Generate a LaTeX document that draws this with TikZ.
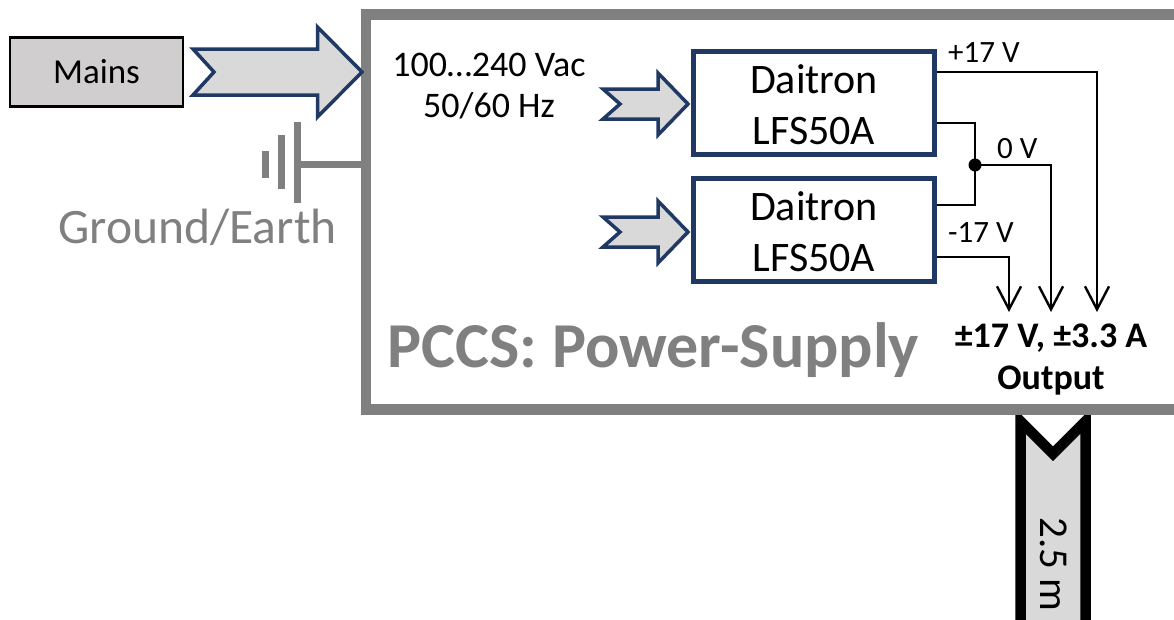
\documentclass[tikz,border=0pt]{standalone}
\usepackage{fontspec}
\setmainfont{Carlito}
\usetikzlibrary{arrows.meta,calc}
\definecolor{navy}{HTML}{1F3864}
\definecolor{grayline}{HTML}{808080}
\definecolor{arrowfill}{HTML}{D9D9D9}
\definecolor{mainsfill}{HTML}{D0CECE}
\tikzset{
  x=1pt,y=-1pt,
  blockarrow/.style={draw=navy,fill=arrowfill,miter limit=10,line width=3.5pt},
  psu/.style={draw=navy,line width=5pt,fill=white,minimum width=241pt,minimum height=103pt,inner sep=0pt},
  psutext/.style={inner sep=0pt,align=center,font=\fontsize{42}{51}\selectfont},
  wire/.style={draw=black,line width=2.4pt},
  wirearrow/.style={wire,-{Straight Barb[length=24pt,width=27pt,line width=2.4pt,angle=55:26pt]}},
  small/.style={font=\fontsize{31}{36}\selectfont,inner sep=0pt},
  gnd/.style={draw=grayline,line width=7pt},
}
\begin{document}
\begin{tikzpicture}
\useasboundingbox (0,0) rectangle (1174,619);
\clip (0,0) rectangle (1174,619);
% cable
\draw[draw=black,fill=arrowfill,line width=10.5pt,miter limit=10] (1020.5,640) -- (1020.5,421.2) -- (1053,453.7) -- (1085.5,421.2) -- (1085.5,640);
\node[rotate=-90,font=\fontsize{41}{46}\selectfont,inner sep=0pt] (len) at (1053.5,564.5) {2.5 m};
% outer box
\node[draw=grayline,line width=10.5pt,fill=white,minimum width=813pt,minimum height=395pt,inner sep=0pt] (pccs) at (772.5,212) {};
% mains
\node[draw=black,line width=2.4pt,fill=mainsfill,minimum width=173pt,minimum height=69pt,inner sep=0pt,font=\fontsize{35}{40}\selectfont] (mains) at (96.5,72) {Mains};
\draw[blockarrow] (193,49) -- (317.5,49) -- (317.5,27) -- (362,72) -- (317.5,117) -- (317.5,95) -- (193,95) -- (214,72) -- cycle;
% ground
\coordinate (g0) at (297.5,164);
\draw[gnd] (g0) -- (pccs.west |- g0);
\draw[gnd] (297.5,122) -- (297.5,203);
\draw[gnd] (281.5,135) -- (281.5,189);
\draw[gnd] (265.5,151) -- (265.5,178);
\node[text=grayline,font=\fontsize{49.6}{54}\selectfont,inner sep=0pt] (earth) at (197.5,227.5) {Ground/Earth};
% input text
\node[font=\fontsize{36}{41}\selectfont,align=center,inner sep=0pt] (ac) at (489,86) {100…240 Vac\\50/60 Hz};
% PSU boxes
\node[psu] (p1) at (814,103) {};
\node[psu] (p2) at (814,230) {};
\node[psutext] (t1) at (814,104.5) {Daitron\\LFS50A};
\node[psutext] (t2) at (814,231.5) {Daitron\\LFS50A};
\draw[blockarrow] (603,89) -- (658,89) -- (658,73) -- (688,104) -- (658,135) -- (658,119) -- (603,119) -- (620,104) -- cycle;
\draw[blockarrow] (603,217) -- (658,217) -- (658,201) -- (688,232) -- (658,263) -- (658,247) -- (603,247) -- (620,232) -- cycle;
% outputs
\coordinate (op) at (1097,312);
\coordinate (oz) at (1051,312);
\coordinate (on) at (1009,312);
\coordinate (d1) at (p1.east |- 0,72);
\coordinate (d2) at (p1.east |- 0,123);
\coordinate (d3) at (p2.east |- 0,205);
\coordinate (d4) at (p2.east |- 0,257);
\node[circle,fill=black,inner sep=0pt,minimum size=13pt] (dot) at (975,165) {};
\draw[wirearrow] (d1) -| (op);
\draw[wire] (d2) -| (dot.center);
\draw[wire] (d3) -| (dot.center);
\draw[wirearrow] (dot.center) -| (oz);
\draw[wirearrow] (d4) -| (on);
\node[small,anchor=west] (lp) at (948,53) {+17 V};
\node[small,anchor=west] (lz) at (997,148.5) {0 V};
\node[small,anchor=west] (ln) at (948,233) {-17 V};
\node[font=\bfseries\fontsize{64}{68}\selectfont,text=grayline,inner sep=0pt] (title) at (653.5,350) {PCCS: Power-Supply};
\node[font=\bfseries\fontsize{36}{42}\selectfont,align=center,inner sep=0pt] (out) at (1051,359.5) {±17 V, ±3.3 A\\Output};
\end{tikzpicture}
\end{document}
